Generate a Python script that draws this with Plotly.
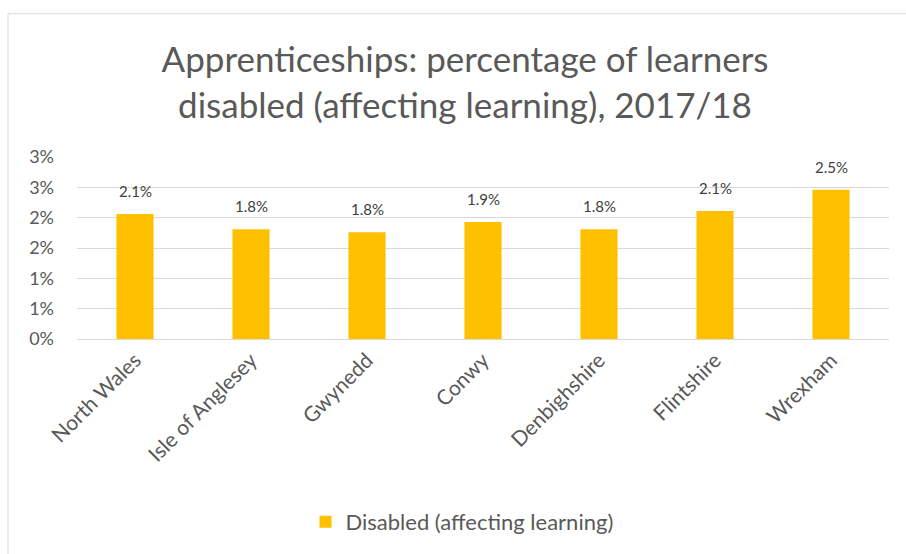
import plotly.graph_objects as go

# Apprenticeship learners disabled (affecting learning), by area, 2017/18
areas = ["North Wales", "Isle of Anglesey", "Gwynedd", "Conwy",
         "Denbighshire", "Flintshire", "Wrexham"]
disabled_share = [2.06, 1.81, 1.76, 1.93, 1.81, 2.11, 2.46]  # percent

y_tick_values = [0, 0.5, 1.0, 1.5, 2.0, 2.5, 3.0]
y_tick_labels = ["0%", "1%", "1%", "2%", "2%", "3%", "3%"]

W, H = 906, 554
ML, MR, MT, MB = 77, 17, 157, 214
PW, PH = W - ML - MR, H - MT - MB

FONT = "Lato, Calibri, sans-serif"
BAR = "#FFC000"
GREY = "#595959"

fig = go.Figure()
fig.add_trace(go.Bar(
    x=areas,
    y=disabled_share,
    name="Disabled (affecting learning)",
    marker=dict(color=BAR, line=dict(width=0)),
    width=0.32,
    hoverinfo="skip",
))

# value labels above each bar
for a, v in zip(areas, disabled_share):
    fig.add_annotation(
        x=a, y=v, text=f"{v:.1f}%", showarrow=False,
        yanchor="bottom", yshift=12,
        font=dict(family=FONT, size=15, color="#404040"),
    )


def px_x(p):
    return (p - ML) / PW


def px_y(p):
    return (H - MB - p) / PH


# chart frame
fig.add_shape(
    type="rect", xref="paper", yref="paper",
    x0=px_x(8), x1=px_x(915), y0=px_y(565), y1=px_y(13),
    line=dict(color="#d9d9d9", width=1), fillcolor="rgba(0,0,0,0)",
    layer="below",
)

fig.update_layout(
    width=W, height=H,
    margin=dict(l=ML, r=MR, t=MT, b=MB),
    paper_bgcolor="white", plot_bgcolor="white",
    title=dict(
        text="Apprenticeships: percentage of learners<br>disabled (affecting learning), 2017/18",
        x=465 / W, xanchor="center", xref="container",
        y=1 - 72 / H, yanchor="middle",
        font=dict(family=FONT, size=35, color=GREY),
    ),
    font=dict(family=FONT, color=GREY),
    showlegend=True,
    legend=dict(
        orientation="h", x=px_x(462), xanchor="center",
        y=px_y(522), yanchor="middle",
        font=dict(family=FONT, size=22, color=GREY),
        itemwidth=30,
    ),
    xaxis=dict(
        tickangle=-45,
        tickfont=dict(family=FONT, size=21, color=GREY),
        showgrid=False, showline=False, ticks="",
        ticklabelstandoff=4,
    ),
    yaxis=dict(
        range=[0, 3.0],
        tickvals=y_tick_values, ticktext=y_tick_labels,
        tickfont=dict(family=FONT, size=18, color=GREY),
        showgrid=True, gridcolor="#d9d9d9", gridwidth=1,
        zeroline=True, zerolinecolor="#d9d9d9", zerolinewidth=1,
        showline=False, ticks="",
        ticklabelstandoff=22,
    ),
)

fig.write_html("out.html")
